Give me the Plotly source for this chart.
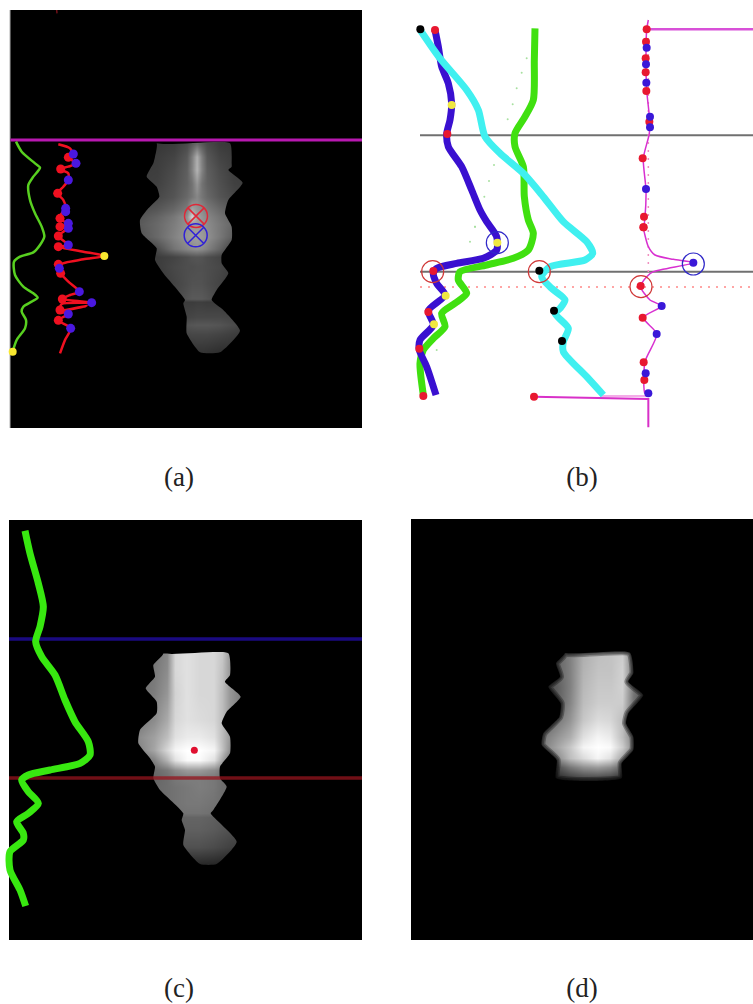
import plotly.graph_objects as go

# Readings are in 3x zoom units; each panel has a zoom origin on the page
def px(xs, x0=0): return [None if v is None else x0 + v / 3 for v in xs]
def py(ys, y0=0): return [None if v is None else y0 + v / 3 for v in ys]

# ---------- panel (a) ----------
a_green_x = [48,65,105,120,100,85,90,105,125,133,120,100,60,42,45,70,100,113,95,70,65,78,75,50,38]
a_green_y = [425,455,490,503,530,555,600,640,680,710,735,757,770,785,825,860,880,893,905,920,935,960,985,1020,1055]
a_red_x = [175,210,218,205,228,205,180,205,205,190,173,190,197,185,178,200,185,205,190,175,205,175,250,313,250,178,182,205,238,210,187,275,185,180,260,185,205,175,212,195,180]
a_red_y = [433,445,462,472,490,500,507,520,540,560,580,600,625,640,655,670,680,685,695,708,735,740,755,768,778,795,820,845,875,885,897,908,912,930,918,935,942,961,985,1020,1060]
a_rdots_x = [205,182,173,180,180,175,175,175,182,187,180,175]
a_rdots_y = [472,507,580,655,680,708,740,793,820,897,930,961]
a_bdots_x = [220,228,205,197,197,205,205,205,178,238,275,205,212]
a_bdots_y = [462,490,540,625,635,670,685,735,805,875,908,942,985]
a_ydots_x = [313,38]
a_ydots_y = [768,1055]
a_redx_x, a_redx_y = [588], [648]
a_bluex_x, a_bluex_y = [587], [706]
a_left_x = [470,465,460,440,470,478,445,420,425,470,465,490,555,550,560,560,600]
a_left_y = [430,470,490,530,560,590,625,660,700,745,780,820,900,910,950,1000,1057]
a_right_x = [690,695,695,685,728,685,675,695,695,665,665,685,650,635,670,720,660]
a_right_y = [430,490,500,510,548,600,640,680,720,765,790,820,870,900,930,992,1057]
a_cols = [420,470,520,560,575,590,605,620,660,700,730]
a_rows = [430,470,510,550,590,630,650,670,710,745,770,800,850,895,905,950,975,1000,1057]
a_z = [
 [50,55,60,75,90,105,90,75,60,55,50],
 [55,60,68,88,125,175,125,88,68,60,55],
 [60,62,75,95,130,180,130,95,75,62,60],
 [62,65,80,98,115,150,115,98,80,65,62],
 [68,72,85,105,118,135,118,105,85,72,68],
 [78,88,105,125,170,150,140,125,105,88,78],
 [85,100,120,145,215,165,150,135,115,95,85],
 [90,105,125,145,155,155,150,140,120,100,90],
 [85,105,130,150,155,160,155,145,120,90,80],
 [50,75,115,135,140,145,140,130,100,60,50],
 [55,60,68,78,84,86,84,78,68,55,50],
 [55,60,72,78,78,80,80,78,72,60,55],
 [50,55,68,78,82,82,82,78,68,55,50],
 [55,60,70,85,90,90,90,85,70,55,50],
 [45,50,60,60,60,62,62,60,60,50,45],
 [60,60,65,68,70,72,72,72,72,68,60],
 [75,75,80,84,86,88,88,88,84,75,65],
 [62,62,68,70,72,72,72,72,68,62,58],
 [45,45,50,50,50,52,52,50,45,45,40],
]

# ---------- panel (b) ----------
b_blue_u = ([105,115,125,145,155,150,140,145,185,215,240],
            [60,110,170,220,280,330,372,410,470,540,600])
b_blue_l = ([260,290,290,250,170,110,100,110,135,85,100,60,58,80,108],
            [5,50,90,115,130,145,160,190,225,272,315,360,390,440,525])
b_green_u = ([405,403,400,375,345,345,370,373],
             [55,150,270,320,370,410,470,560])
b_green_l = ([385,400,385,340,260,180,175,200,165,125,135,100,70,60,70],
             [0,40,90,115,135,155,180,220,250,280,320,355,390,430,525])
b_cyan_u = ([62,120,200,235,255,300,370,430],
            [62,145,240,300,380,430,490,560])
b_cyan_l = ([490,560,578,555,450,425,455,495,480,465,505,490,490,560,610],
            [5,65,100,120,140,170,205,240,265,280,325,365,395,470,525])
b_mag_u = ([745,740,738,740,748,748,730,738,735,731],
           [30,60,150,240,320,370,445,540,620,650])
b_mag_l = ([730,745,765,820,880,760,740,722,750,785,730,770,735,735,745],
           [20,80,105,118,128,155,170,200,240,258,293,342,425,520,520])
b_top_x, b_top_y = [745,1059], [58,58]
b_bot_x, b_bot_y = [402,745,745], [530,537,622]
b_bot2_x, b_bot2_y = [600,745], [528,528]
b_green_specks_u = ([380,365,350,338,323,282,267,253,225],[145,188,235,283,328,465,513,560,650])
b_green_specks_l = ([225,210,110],[20,65,390])
b_black_u = ([61],[58])
b_black_l = ([418,462,486],[152,272,363])
b_red_u = ([105,142,740,738,737,737,739,748,728,732,731],[60,372,58,95,145,187,243,335,445,620,652])
b_red_l = ([100,85,58,70,402,730,722,728,731,733],[153,276,386,528,530,22,198,293,427,480])
b_blue_dots_u = ([740,738,739,750,750,738],[113,163,218,320,352,537])
b_blue_dots_l = ([880,785,770,737,745],[128,258,342,460,520])
b_yellow_u = ([155],[285])
b_yellow_l = ([292,137,102],[68,227,313])
b_ring_red_l = ([98,418,723],[155,155,200])
b_ring_blue_l = ([292,880],[68,132])

# ---------- panel (c) ----------
c_green_x = [75,90,115,130,120,107,125,165,195,225,265,270,240,150,85,65,85,115,85,50,70,70,30,30,60,77]
c_green_y = [32,100,190,260,320,365,410,465,540,605,665,705,730,750,765,780,815,850,880,905,940,960,995,1050,1110,1158]
c_left_x = [490,460,465,437,470,470,420,415,450,465,460,480,550,545,555,550,600]
c_left_y = [400,435,470,505,545,580,630,670,715,740,775,810,880,900,930,975,1032]
c_right_x = [685,690,675,722,680,665,690,690,660,660,680,640,632,710,650]
c_right_y = [400,465,485,530,575,610,650,700,740,775,800,870,880,965,1032]
c_cols = [415,460,500,525,560,600,640,665,690,725]
c_rows = [400,450,520,600,650,690,720,750,775,800,850,878,890,930,980,1032]
c_z = [
 [110,115,135,215,225,215,215,200,150,120],
 [110,120,140,215,225,215,215,195,150,120],
 [110,125,150,210,225,215,215,190,150,120],
 [120,140,170,215,225,220,215,190,150,120],
 [140,160,190,225,235,235,225,190,150,125],
 [130,165,215,245,255,255,245,195,140,120],
 [100,130,180,225,250,250,225,165,110,100],
 [95,105,120,140,155,155,140,120,100,90],
 [95,100,110,120,125,125,120,110,100,90],
 [100,105,110,115,120,125,120,110,105,95],
 [90,100,110,115,120,120,115,110,100,90],
 [90,100,110,115,115,115,110,105,100,90],
 [70,80,85,95,100,100,95,90,80,70],
 [85,90,90,95,95,95,90,85,80,75],
 [70,70,75,80,80,80,75,70,65,60],
 [30,30,35,40,40,40,38,35,30,28],
]
c_dot_x, c_dot_y = [583], [691]

# ---------- panel (d) ----------
d_left_x = [135,108,120,85,122,118,70,65,110,108]
d_left_y = [68,100,140,170,220,260,310,345,390,445]
d_right_x = [330,340,325,370,325,318,340,340,305,305]
d_right_y = [68,130,155,195,250,280,320,360,400,445]
d_cols = [65,110,150,190,230,270,305,340,370]
d_rows = [68,120,170,220,270,320,350,385,410,445]
d_z = [
 [70,100,130,175,190,195,205,120,70],
 [70,100,130,180,195,195,210,120,80],
 [70,95,130,185,200,200,210,120,80],
 [70,95,135,190,205,205,205,115,70],
 [90,120,150,200,220,215,190,100,60],
 [120,150,175,225,245,235,190,125,60],
 [125,165,200,245,255,250,205,130,55],
 [90,140,190,220,245,225,165,90,40],
 [50,80,120,145,155,140,100,50,30],
 [35,45,60,70,72,65,45,25,15],
]

# ---------- captions ----------
caption_text = ["(a)", "(b)", "(c)", "(d)"]
caption_x = [179, 582, 179, 582]
caption_y = [479, 479, 990, 990]

fig = go.Figure()

def add_line(xs, ys, color, width, smooth=True, dash=None):
    fig.add_trace(go.Scatter(x=xs, y=ys, mode="lines",
        line=dict(color=color, width=width, shape="spline" if smooth else "linear", smoothing=0.7, dash=dash)))

def add_dots(xs, ys, color, size):
    fig.add_trace(go.Scatter(x=xs, y=ys, mode="markers", marker=dict(color=color, size=size)))

def add_ring(xs, ys, color, size, symbol="circle-open", w=1.2):
    fig.add_trace(go.Scatter(x=xs, y=ys, mode="markers",
        marker=dict(symbol=symbol, color=color, size=size, line=dict(color=color, width=w))))

def add_heat(cols, rows, z, x0, y0):
    fig.add_trace(go.Heatmap(x=px(cols, x0), y=py(rows, y0), z=z, zmin=0, zmax=255, zsmooth="best",
        colorscale=[[0, "#000000"], [1, "#ffffff"]], showscale=False, hoverinfo="skip"))

def add_mask(lx, ly, rx, ry, x0, y0, soft=False):
    pad = 90
    xmin, xmax = min(lx + rx), max(lx + rx)
    ymin, ymax = min(ly + ry), max(ly + ry)
    ox = [xmin-pad, xmax+pad, xmax+pad, xmin-pad, xmin-pad] + lx + rx[::-1] + [lx[0], xmin-pad]
    oy = [ymin-pad, ymin-pad, ymax+pad, ymax+pad, ymin-pad] + ly + ry[::-1] + [ly[0], ymin-pad]
    fig.add_trace(go.Scatter(x=px(ox, x0), y=py(oy, y0), mode="lines", fill="toself", fillcolor="#000000",
        line=dict(color="rgba(0,0,0,0)", width=0, shape="spline", smoothing=0.5)))
    if soft:
        # same path as the fill, so the soft rim sits exactly on its edge
        for w in (8, 5, 2):
            fig.add_trace(go.Scatter(x=px(ox, x0), y=py(oy, y0), mode="lines",
                line=dict(color="rgba(0,0,0,0.3)", width=w, shape="spline", smoothing=0.5)))

# blobs
add_heat(a_cols, a_rows, a_z, 0, 0)
add_heat(c_cols, c_rows, c_z, 0, 520)
add_heat(d_cols, d_rows, d_z, 520, 630)
add_mask(a_left_x, a_left_y, a_right_x, a_right_y, 0, 0)
add_mask(c_left_x, c_left_y, c_right_x, c_right_y, 0, 520)
add_mask(d_left_x, d_left_y, d_right_x, d_right_y, 520, 630, soft=True)

# panel (a) marks
add_line([10, 10], [10, 428], "#b0b0b0", 1, False)
add_line([10.5, 362], [140, 140], "#b818b0", 3, False)
add_line(px(a_green_x), py(a_green_y), "#58d020", 2.5)
add_line(px(a_red_x), py(a_red_y), "#f01020", 2.5)
add_line(px([170, 171]), py([30, 40]), "#701018", 1.5, False)
add_dots(px(a_rdots_x), py(a_rdots_y), "#f01020", 9)
add_dots(px(a_bdots_x), py(a_bdots_y), "#4a18e0", 9)
add_dots(px(a_ydots_x), py(a_ydots_y), "#f8e830", 8)
add_ring(px(a_redx_x), py(a_redx_y), "#e02838", 23, "circle-x-open", 1.5)
add_ring(px(a_bluex_x), py(a_bluex_y), "#3020d8", 23, "circle-x-open", 1.5)

# panel (b) marks
def b(arr, y0): return px(arr[0], 400), py(arr[1], y0)
add_line(px([60, 1059], 400), py([376, 376], 10), "#707070", 2, False)
add_line(px([60, 1059], 400), py([155, 155], 220), "#707070", 2, False)
add_line(px([60, 1059], 400), py([201, 201], 220), "#ff8888", 1.5, False, "2px,6px")
add_line(px([745, 745], 400), py([60, 790], 10), "#f090c0", 1.5, False, "2px,6px")
sp = b(b_green_specks_u, 10); sl = b(b_green_specks_l, 220)
add_dots(sp[0] + sl[0], sp[1] + sl[1], "#a8e0a0", 2)
ux, uy = b(b_mag_u, 10); lx, ly = b(b_mag_l, 220)
add_line(ux + lx, uy + ly, "#d830d0", 1.5)
add_line(*b((b_top_x, b_top_y), 10), "#d850d8", 2.5, False)
add_line(*b((b_bot_x, b_bot_y), 220), "#d830c8", 2, False)
add_line(*b((b_bot2_x, b_bot2_y), 220), "#f090e0", 1.5, False)
ux, uy = b(b_green_u, 10); lx, ly = b(b_green_l, 220)
add_line(ux + lx, uy + ly, "#40e010", 7)
ux, uy = b(b_blue_u, 10); lx, ly = b(b_blue_l, 220)
add_line(ux + lx, uy + ly, "#3a10d0", 7)
ux, uy = b(b_cyan_u, 10); lx, ly = b(b_cyan_l, 220)
add_line(ux + lx, uy + ly, "#40f0f0", 7)
for arr, y0, col in [(b_black_u, 10, "#000000"), (b_black_l, 220, "#000000"),
                     (b_red_u, 10, "#e81830"), (b_red_l, 220, "#e81830"),
                     (b_blue_dots_u, 10, "#3a18d8"), (b_blue_dots_l, 220, "#3a18d8"),
                     (b_yellow_u, 10, "#f0e840"), (b_yellow_l, 220, "#f0e840")]:
    add_dots(*b(arr, y0), col, 8)
add_ring(*b(b_ring_red_l, 220), "#d03838", 22)
add_ring(*b(b_ring_blue_l, 220), "#3028c8", 22)

# panel (c) marks
add_line([9, 362], [639, 639], "#1a0a80", 3.5, False)
add_line([9, 362], [778, 778], "rgba(150,20,30,0.75)", 3.5, False)
add_line(px(c_green_x), py(c_green_y, 520), "#38e810", 7)
add_dots(px(c_dot_x), py(c_dot_y, 520), "#e01030", 7)

# captions
fig.add_trace(go.Scatter(x=caption_x, y=caption_y, mode="text", text=caption_text,
    textposition="middle center", textfont=dict(family="Liberation Serif", size=27, color="#222222")))

panels = [(10, 10, 362, 428), (9, 520, 362, 940), (411, 519, 753, 940)]
fig.update_layout(
    width=753, height=1004, margin=dict(l=0, r=0, t=0, b=0), autosize=False,
    paper_bgcolor="#ffffff", plot_bgcolor="#ffffff", showlegend=False, hovermode=False,
    xaxis=dict(range=[0, 753], visible=False, fixedrange=True),
    yaxis=dict(range=[1004, 0], visible=False, fixedrange=True),
    shapes=[dict(type="rect", x0=p[0], y0=p[1], x1=p[2], y1=p[3], fillcolor="#000000",
                 line_width=0, layer="below") for p in panels],
)
fig.write_html("out.html", config=dict(displayModeBar=False),
               post_script="document.body.style.margin='0';document.body.style.overflow='hidden';")
